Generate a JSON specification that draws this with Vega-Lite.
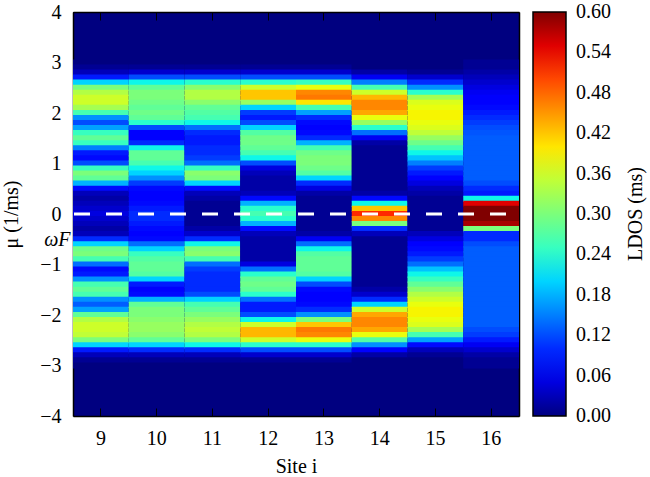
{
"$schema":"https://vega.github.io/schema/vega-lite/v6.json",
"autosize":{"type":"none"},
"padding":{"left":73,"top":12,"right":131,"bottom":61},
"width":446,"height":404,
"config":{"font":"Liberation Serif","view":{"fill":"#000080","stroke":null},
"style":{"guide-label":{"font":"Liberation Serif"},"guide-title":{"font":"Liberation Serif"}},
"axis":{"labelFont":"Liberation Serif","labelFontSize":20,"labelColor":"black","titleFont":"Liberation Serif","titleFontSize":20,"titleFontWeight":"normal","titleColor":"black","domainColor":"black","domainWidth":1.5,"tickColor":"black","tickWidth":1,"tickSize":-8,"grid":false,"zindex":1},
"legend":{"labelFont":"Liberation Serif","titleFont":"Liberation Serif"}},
"resolve":{"axis":{"x":"independent","y":"independent"}},
"layer":[
{"data":{"values":[
{"s":9,"mu":3,"v":0},{"s":9,"mu":2.9,"v":0.01},{"s":9,"mu":2.8,"v":0.03},{"s":9,"mu":2.7,"v":0.09},{"s":9,"mu":2.6,"v":0.2},{"s":9,"mu":2.5,"v":0.3},{"s":9,"mu":2.4,"v":0.34},{"s":9,"mu":2.3,"v":0.36},{"s":9,"mu":2.2,"v":0.36},{"s":9,"mu":2.1,"v":0.33},{"s":9,"mu":2,"v":0.26},{"s":9,"mu":1.9,"v":0.16},{"s":9,"mu":1.8,"v":0.12},{"s":9,"mu":1.7,"v":0.17},{"s":9,"mu":1.6,"v":0.25},{"s":9,"mu":1.5,"v":0.28},{"s":9,"mu":1.4,"v":0.25},{"s":9,"mu":1.3,"v":0.15},{"s":9,"mu":1.2,"v":0.09},{"s":9,"mu":1.1,"v":0.08},{"s":9,"mu":1,"v":0.12},{"s":9,"mu":0.9,"v":0.25},{"s":9,"mu":0.8,"v":0.3},{"s":9,"mu":0.7,"v":0.28},{"s":9,"mu":0.6,"v":0.18},{"s":9,"mu":0.5,"v":0.08},{"s":9,"mu":0.4,"v":0.03},{"s":9,"mu":0.3,"v":0.02},{"s":9,"mu":0.2,"v":0.03},{"s":9,"mu":0.1,"v":0.04},{"s":9,"mu":0,"v":0.05},{"s":9,"mu":-0.1,"v":0.04},{"s":9,"mu":-0.2,"v":0.03},{"s":9,"mu":-0.3,"v":0.02},{"s":9,"mu":-0.4,"v":0.03},{"s":9,"mu":-0.5,"v":0.1},{"s":9,"mu":-0.6,"v":0.2},{"s":9,"mu":-0.7,"v":0.29},{"s":9,"mu":-0.8,"v":0.3},{"s":9,"mu":-0.9,"v":0.26},{"s":9,"mu":-1,"v":0.14},{"s":9,"mu":-1.1,"v":0.08},{"s":9,"mu":-1.2,"v":0.09},{"s":9,"mu":-1.3,"v":0.16},{"s":9,"mu":-1.4,"v":0.26},{"s":9,"mu":-1.5,"v":0.28},{"s":9,"mu":-1.6,"v":0.26},{"s":9,"mu":-1.7,"v":0.16},{"s":9,"mu":-1.8,"v":0.13},{"s":9,"mu":-1.9,"v":0.17},{"s":9,"mu":-2,"v":0.28},{"s":9,"mu":-2.1,"v":0.34},{"s":9,"mu":-2.2,"v":0.36},{"s":9,"mu":-2.3,"v":0.36},{"s":9,"mu":-2.4,"v":0.35},{"s":9,"mu":-2.5,"v":0.3},{"s":9,"mu":-2.6,"v":0.2},{"s":9,"mu":-2.7,"v":0.09},{"s":9,"mu":-2.8,"v":0.03},{"s":9,"mu":-2.9,"v":0.01},{"s":9,"mu":-3,"v":0},
{"s":10,"mu":3,"v":0},{"s":10,"mu":2.9,"v":0.01},{"s":10,"mu":2.8,"v":0.04},{"s":10,"mu":2.7,"v":0.12},{"s":10,"mu":2.6,"v":0.22},{"s":10,"mu":2.5,"v":0.28},{"s":10,"mu":2.4,"v":0.3},{"s":10,"mu":2.3,"v":0.3},{"s":10,"mu":2.2,"v":0.29},{"s":10,"mu":2.1,"v":0.28},{"s":10,"mu":2,"v":0.29},{"s":10,"mu":1.9,"v":0.28},{"s":10,"mu":1.8,"v":0.24},{"s":10,"mu":1.7,"v":0.12},{"s":10,"mu":1.6,"v":0.07},{"s":10,"mu":1.5,"v":0.07},{"s":10,"mu":1.4,"v":0.1},{"s":10,"mu":1.3,"v":0.22},{"s":10,"mu":1.2,"v":0.28},{"s":10,"mu":1.1,"v":0.28},{"s":10,"mu":1,"v":0.26},{"s":10,"mu":0.9,"v":0.22},{"s":10,"mu":0.8,"v":0.2},{"s":10,"mu":0.7,"v":0.16},{"s":10,"mu":0.6,"v":0.11},{"s":10,"mu":0.5,"v":0.08},{"s":10,"mu":0.4,"v":0.07},{"s":10,"mu":0.3,"v":0.07},{"s":10,"mu":0.2,"v":0.08},{"s":10,"mu":0.1,"v":0.09},{"s":10,"mu":0,"v":0.1},{"s":10,"mu":-0.1,"v":0.1},{"s":10,"mu":-0.2,"v":0.09},{"s":10,"mu":-0.3,"v":0.08},{"s":10,"mu":-0.4,"v":0.07},{"s":10,"mu":-0.5,"v":0.08},{"s":10,"mu":-0.6,"v":0.14},{"s":10,"mu":-0.7,"v":0.2},{"s":10,"mu":-0.8,"v":0.25},{"s":10,"mu":-0.9,"v":0.27},{"s":10,"mu":-1,"v":0.28},{"s":10,"mu":-1.1,"v":0.28},{"s":10,"mu":-1.2,"v":0.27},{"s":10,"mu":-1.3,"v":0.2},{"s":10,"mu":-1.4,"v":0.09},{"s":10,"mu":-1.5,"v":0.07},{"s":10,"mu":-1.6,"v":0.08},{"s":10,"mu":-1.7,"v":0.18},{"s":10,"mu":-1.8,"v":0.28},{"s":10,"mu":-1.9,"v":0.3},{"s":10,"mu":-2,"v":0.3},{"s":10,"mu":-2.1,"v":0.31},{"s":10,"mu":-2.2,"v":0.32},{"s":10,"mu":-2.3,"v":0.32},{"s":10,"mu":-2.4,"v":0.31},{"s":10,"mu":-2.5,"v":0.28},{"s":10,"mu":-2.6,"v":0.2},{"s":10,"mu":-2.7,"v":0.1},{"s":10,"mu":-2.8,"v":0.03},{"s":10,"mu":-2.9,"v":0.01},{"s":10,"mu":-3,"v":0},
{"s":11,"mu":3,"v":0},{"s":11,"mu":2.9,"v":0.01},{"s":11,"mu":2.8,"v":0.04},{"s":11,"mu":2.7,"v":0.12},{"s":11,"mu":2.6,"v":0.24},{"s":11,"mu":2.5,"v":0.31},{"s":11,"mu":2.4,"v":0.34},{"s":11,"mu":2.3,"v":0.34},{"s":11,"mu":2.2,"v":0.31},{"s":11,"mu":2.1,"v":0.28},{"s":11,"mu":2,"v":0.27},{"s":11,"mu":1.9,"v":0.26},{"s":11,"mu":1.8,"v":0.22},{"s":11,"mu":1.7,"v":0.14},{"s":11,"mu":1.6,"v":0.1},{"s":11,"mu":1.5,"v":0.09},{"s":11,"mu":1.4,"v":0.09},{"s":11,"mu":1.3,"v":0.1},{"s":11,"mu":1.2,"v":0.1},{"s":11,"mu":1.1,"v":0.11},{"s":11,"mu":1,"v":0.14},{"s":11,"mu":0.9,"v":0.25},{"s":11,"mu":0.8,"v":0.31},{"s":11,"mu":0.7,"v":0.3},{"s":11,"mu":0.6,"v":0.2},{"s":11,"mu":0.5,"v":0.08},{"s":11,"mu":0.4,"v":0.03},{"s":11,"mu":0.3,"v":0.02},{"s":11,"mu":0.2,"v":0.01},{"s":11,"mu":0.1,"v":0.01},{"s":11,"mu":0,"v":0.01},{"s":11,"mu":-0.1,"v":0.01},{"s":11,"mu":-0.2,"v":0.01},{"s":11,"mu":-0.3,"v":0.02},{"s":11,"mu":-0.4,"v":0.04},{"s":11,"mu":-0.5,"v":0.1},{"s":11,"mu":-0.6,"v":0.22},{"s":11,"mu":-0.7,"v":0.3},{"s":11,"mu":-0.8,"v":0.31},{"s":11,"mu":-0.9,"v":0.26},{"s":11,"mu":-1,"v":0.14},{"s":11,"mu":-1.1,"v":0.11},{"s":11,"mu":-1.2,"v":0.1},{"s":11,"mu":-1.3,"v":0.1},{"s":11,"mu":-1.4,"v":0.1},{"s":11,"mu":-1.5,"v":0.1},{"s":11,"mu":-1.6,"v":0.12},{"s":11,"mu":-1.7,"v":0.2},{"s":11,"mu":-1.8,"v":0.26},{"s":11,"mu":-1.9,"v":0.28},{"s":11,"mu":-2,"v":0.3},{"s":11,"mu":-2.1,"v":0.32},{"s":11,"mu":-2.2,"v":0.34},{"s":11,"mu":-2.3,"v":0.35},{"s":11,"mu":-2.4,"v":0.34},{"s":11,"mu":-2.5,"v":0.3},{"s":11,"mu":-2.6,"v":0.22},{"s":11,"mu":-2.7,"v":0.1},{"s":11,"mu":-2.8,"v":0.03},{"s":11,"mu":-2.9,"v":0.01},{"s":11,"mu":-3,"v":0},
{"s":12,"mu":3,"v":0},{"s":12,"mu":2.9,"v":0.01},{"s":12,"mu":2.8,"v":0.04},{"s":12,"mu":2.7,"v":0.12},{"s":12,"mu":2.6,"v":0.24},{"s":12,"mu":2.5,"v":0.36},{"s":12,"mu":2.4,"v":0.42},{"s":12,"mu":2.3,"v":0.42},{"s":12,"mu":2.2,"v":0.32},{"s":12,"mu":2.1,"v":0.2},{"s":12,"mu":2,"v":0.11},{"s":12,"mu":1.9,"v":0.09},{"s":12,"mu":1.8,"v":0.12},{"s":12,"mu":1.7,"v":0.2},{"s":12,"mu":1.6,"v":0.27},{"s":12,"mu":1.5,"v":0.29},{"s":12,"mu":1.4,"v":0.29},{"s":12,"mu":1.3,"v":0.28},{"s":12,"mu":1.2,"v":0.26},{"s":12,"mu":1.1,"v":0.22},{"s":12,"mu":1,"v":0.12},{"s":12,"mu":0.9,"v":0.05},{"s":12,"mu":0.8,"v":0.03},{"s":12,"mu":0.7,"v":0.02},{"s":12,"mu":0.6,"v":0.02},{"s":12,"mu":0.5,"v":0.02},{"s":12,"mu":0.4,"v":0.03},{"s":12,"mu":0.3,"v":0.08},{"s":12,"mu":0.2,"v":0.18},{"s":12,"mu":0.1,"v":0.24},{"s":12,"mu":0,"v":0.26},{"s":12,"mu":-0.1,"v":0.24},{"s":12,"mu":-0.2,"v":0.18},{"s":12,"mu":-0.3,"v":0.08},{"s":12,"mu":-0.4,"v":0.03},{"s":12,"mu":-0.5,"v":0.02},{"s":12,"mu":-0.6,"v":0.02},{"s":12,"mu":-0.7,"v":0.02},{"s":12,"mu":-0.8,"v":0.02},{"s":12,"mu":-0.9,"v":0.02},{"s":12,"mu":-1,"v":0.05},{"s":12,"mu":-1.1,"v":0.14},{"s":12,"mu":-1.2,"v":0.24},{"s":12,"mu":-1.3,"v":0.28},{"s":12,"mu":-1.4,"v":0.29},{"s":12,"mu":-1.5,"v":0.28},{"s":12,"mu":-1.6,"v":0.24},{"s":12,"mu":-1.7,"v":0.14},{"s":12,"mu":-1.8,"v":0.09},{"s":12,"mu":-1.9,"v":0.09},{"s":12,"mu":-2,"v":0.12},{"s":12,"mu":-2.1,"v":0.22},{"s":12,"mu":-2.2,"v":0.36},{"s":12,"mu":-2.3,"v":0.43},{"s":12,"mu":-2.4,"v":0.43},{"s":12,"mu":-2.5,"v":0.36},{"s":12,"mu":-2.6,"v":0.24},{"s":12,"mu":-2.7,"v":0.12},{"s":12,"mu":-2.8,"v":0.04},{"s":12,"mu":-2.9,"v":0.01},{"s":12,"mu":-3,"v":0},
{"s":13,"mu":3,"v":0},{"s":13,"mu":2.9,"v":0.01},{"s":13,"mu":2.8,"v":0.04},{"s":13,"mu":2.7,"v":0.12},{"s":13,"mu":2.6,"v":0.25},{"s":13,"mu":2.5,"v":0.38},{"s":13,"mu":2.4,"v":0.46},{"s":13,"mu":2.3,"v":0.47},{"s":13,"mu":2.2,"v":0.4},{"s":13,"mu":2.1,"v":0.26},{"s":13,"mu":2,"v":0.17},{"s":13,"mu":1.9,"v":0.1},{"s":13,"mu":1.8,"v":0.08},{"s":13,"mu":1.7,"v":0.07},{"s":13,"mu":1.6,"v":0.08},{"s":13,"mu":1.5,"v":0.1},{"s":13,"mu":1.4,"v":0.18},{"s":13,"mu":1.3,"v":0.26},{"s":13,"mu":1.2,"v":0.29},{"s":13,"mu":1.1,"v":0.3},{"s":13,"mu":1,"v":0.3},{"s":13,"mu":0.9,"v":0.29},{"s":13,"mu":0.8,"v":0.27},{"s":13,"mu":0.7,"v":0.2},{"s":13,"mu":0.6,"v":0.1},{"s":13,"mu":0.5,"v":0.05},{"s":13,"mu":0.4,"v":0.02},{"s":13,"mu":0.3,"v":0.01},{"s":13,"mu":0.2,"v":0.01},{"s":13,"mu":0.1,"v":0.01},{"s":13,"mu":0,"v":0.01},{"s":13,"mu":-0.1,"v":0.01},{"s":13,"mu":-0.2,"v":0.01},{"s":13,"mu":-0.3,"v":0.01},{"s":13,"mu":-0.4,"v":0.02},{"s":13,"mu":-0.5,"v":0.06},{"s":13,"mu":-0.6,"v":0.14},{"s":13,"mu":-0.7,"v":0.22},{"s":13,"mu":-0.8,"v":0.27},{"s":13,"mu":-0.9,"v":0.28},{"s":13,"mu":-1,"v":0.28},{"s":13,"mu":-1.1,"v":0.28},{"s":13,"mu":-1.2,"v":0.27},{"s":13,"mu":-1.3,"v":0.2},{"s":13,"mu":-1.4,"v":0.12},{"s":13,"mu":-1.5,"v":0.08},{"s":13,"mu":-1.6,"v":0.07},{"s":13,"mu":-1.7,"v":0.07},{"s":13,"mu":-1.8,"v":0.08},{"s":13,"mu":-1.9,"v":0.1},{"s":13,"mu":-2,"v":0.16},{"s":13,"mu":-2.1,"v":0.3},{"s":13,"mu":-2.2,"v":0.42},{"s":13,"mu":-2.3,"v":0.47},{"s":13,"mu":-2.4,"v":0.46},{"s":13,"mu":-2.5,"v":0.38},{"s":13,"mu":-2.6,"v":0.24},{"s":13,"mu":-2.7,"v":0.12},{"s":13,"mu":-2.8,"v":0.04},{"s":13,"mu":-2.9,"v":0.01},{"s":13,"mu":-3,"v":0},
{"s":14,"mu":3,"v":0},{"s":14,"mu":2.9,"v":0},{"s":14,"mu":2.8,"v":0.02},{"s":14,"mu":2.7,"v":0.06},{"s":14,"mu":2.6,"v":0.15},{"s":14,"mu":2.5,"v":0.26},{"s":14,"mu":2.4,"v":0.36},{"s":14,"mu":2.3,"v":0.43},{"s":14,"mu":2.2,"v":0.46},{"s":14,"mu":2.1,"v":0.46},{"s":14,"mu":2,"v":0.44},{"s":14,"mu":1.9,"v":0.38},{"s":14,"mu":1.8,"v":0.32},{"s":14,"mu":1.7,"v":0.24},{"s":14,"mu":1.6,"v":0.14},{"s":14,"mu":1.5,"v":0.06},{"s":14,"mu":1.4,"v":0.02},{"s":14,"mu":1.3,"v":0.01},{"s":14,"mu":1.2,"v":0.01},{"s":14,"mu":1.1,"v":0.01},{"s":14,"mu":1,"v":0.01},{"s":14,"mu":0.9,"v":0.01},{"s":14,"mu":0.8,"v":0.01},{"s":14,"mu":0.7,"v":0.01},{"s":14,"mu":0.6,"v":0.01},{"s":14,"mu":0.5,"v":0.01},{"s":14,"mu":0.4,"v":0.02},{"s":14,"mu":0.3,"v":0.08},{"s":14,"mu":0.2,"v":0.22},{"s":14,"mu":0.1,"v":0.42},{"s":14,"mu":0,"v":0.52},{"s":14,"mu":-0.1,"v":0.46},{"s":14,"mu":-0.2,"v":0.3},{"s":14,"mu":-0.3,"v":0.1},{"s":14,"mu":-0.4,"v":0.03},{"s":14,"mu":-0.5,"v":0.01},{"s":14,"mu":-0.6,"v":0.01},{"s":14,"mu":-0.7,"v":0.01},{"s":14,"mu":-0.8,"v":0.01},{"s":14,"mu":-0.9,"v":0.01},{"s":14,"mu":-1,"v":0.01},{"s":14,"mu":-1.1,"v":0.01},{"s":14,"mu":-1.2,"v":0.01},{"s":14,"mu":-1.3,"v":0.01},{"s":14,"mu":-1.4,"v":0.01},{"s":14,"mu":-1.5,"v":0.02},{"s":14,"mu":-1.6,"v":0.04},{"s":14,"mu":-1.7,"v":0.1},{"s":14,"mu":-1.8,"v":0.2},{"s":14,"mu":-1.9,"v":0.36},{"s":14,"mu":-2,"v":0.44},{"s":14,"mu":-2.1,"v":0.46},{"s":14,"mu":-2.2,"v":0.46},{"s":14,"mu":-2.3,"v":0.44},{"s":14,"mu":-2.4,"v":0.38},{"s":14,"mu":-2.5,"v":0.27},{"s":14,"mu":-2.6,"v":0.16},{"s":14,"mu":-2.7,"v":0.07},{"s":14,"mu":-2.8,"v":0.02},{"s":14,"mu":-2.9,"v":0},{"s":14,"mu":-3,"v":0},
{"s":15,"mu":3,"v":0},{"s":15,"mu":2.9,"v":0},{"s":15,"mu":2.8,"v":0.01},{"s":15,"mu":2.7,"v":0.04},{"s":15,"mu":2.6,"v":0.1},{"s":15,"mu":2.5,"v":0.16},{"s":15,"mu":2.4,"v":0.24},{"s":15,"mu":2.3,"v":0.33},{"s":15,"mu":2.2,"v":0.37},{"s":15,"mu":2.1,"v":0.38},{"s":15,"mu":2,"v":0.39},{"s":15,"mu":1.9,"v":0.39},{"s":15,"mu":1.8,"v":0.38},{"s":15,"mu":1.7,"v":0.37},{"s":15,"mu":1.6,"v":0.35},{"s":15,"mu":1.5,"v":0.32},{"s":15,"mu":1.4,"v":0.29},{"s":15,"mu":1.3,"v":0.26},{"s":15,"mu":1.2,"v":0.22},{"s":15,"mu":1.1,"v":0.19},{"s":15,"mu":1,"v":0.15},{"s":15,"mu":0.9,"v":0.11},{"s":15,"mu":0.8,"v":0.09},{"s":15,"mu":0.7,"v":0.07},{"s":15,"mu":0.6,"v":0.05},{"s":15,"mu":0.5,"v":0.03},{"s":15,"mu":0.4,"v":0.02},{"s":15,"mu":0.3,"v":0.01},{"s":15,"mu":0.2,"v":0.01},{"s":15,"mu":0.1,"v":0.01},{"s":15,"mu":0,"v":0.01},{"s":15,"mu":-0.1,"v":0.01},{"s":15,"mu":-0.2,"v":0.01},{"s":15,"mu":-0.3,"v":0.01},{"s":15,"mu":-0.4,"v":0.03},{"s":15,"mu":-0.5,"v":0.05},{"s":15,"mu":-0.6,"v":0.07},{"s":15,"mu":-0.7,"v":0.08},{"s":15,"mu":-0.8,"v":0.09},{"s":15,"mu":-0.9,"v":0.11},{"s":15,"mu":-1,"v":0.14},{"s":15,"mu":-1.1,"v":0.19},{"s":15,"mu":-1.2,"v":0.22},{"s":15,"mu":-1.3,"v":0.25},{"s":15,"mu":-1.4,"v":0.28},{"s":15,"mu":-1.5,"v":0.31},{"s":15,"mu":-1.6,"v":0.34},{"s":15,"mu":-1.7,"v":0.36},{"s":15,"mu":-1.8,"v":0.38},{"s":15,"mu":-1.9,"v":0.39},{"s":15,"mu":-2,"v":0.39},{"s":15,"mu":-2.1,"v":0.38},{"s":15,"mu":-2.2,"v":0.37},{"s":15,"mu":-2.3,"v":0.33},{"s":15,"mu":-2.4,"v":0.26},{"s":15,"mu":-2.5,"v":0.17},{"s":15,"mu":-2.6,"v":0.08},{"s":15,"mu":-2.7,"v":0.03},{"s":15,"mu":-2.8,"v":0.01},{"s":15,"mu":-2.9,"v":0},{"s":15,"mu":-3,"v":0},
{"s":16,"mu":3,"v":0.01},{"s":16,"mu":2.9,"v":0.01},{"s":16,"mu":2.8,"v":0.02},{"s":16,"mu":2.7,"v":0.03},{"s":16,"mu":2.6,"v":0.04},{"s":16,"mu":2.5,"v":0.05},{"s":16,"mu":2.4,"v":0.06},{"s":16,"mu":2.3,"v":0.065},{"s":16,"mu":2.2,"v":0.07},{"s":16,"mu":2.1,"v":0.08},{"s":16,"mu":2,"v":0.09},{"s":16,"mu":1.9,"v":0.1},{"s":16,"mu":1.8,"v":0.11},{"s":16,"mu":1.7,"v":0.12},{"s":16,"mu":1.6,"v":0.125},{"s":16,"mu":1.5,"v":0.13},{"s":16,"mu":1.4,"v":0.13},{"s":16,"mu":1.3,"v":0.13},{"s":16,"mu":1.2,"v":0.13},{"s":16,"mu":1.1,"v":0.13},{"s":16,"mu":1,"v":0.13},{"s":16,"mu":0.9,"v":0.13},{"s":16,"mu":0.8,"v":0.13},{"s":16,"mu":0.7,"v":0.13},{"s":16,"mu":0.6,"v":0.12},{"s":16,"mu":0.5,"v":0.1},{"s":16,"mu":0.4,"v":0.09},{"s":16,"mu":0.3,"v":0.22},{"s":16,"mu":0.2,"v":0.55},{"s":16,"mu":0.1,"v":0.6},{"s":16,"mu":0,"v":0.6},{"s":16,"mu":-0.1,"v":0.6},{"s":16,"mu":-0.2,"v":0.58},{"s":16,"mu":-0.3,"v":0.3},{"s":16,"mu":-0.4,"v":0.1},{"s":16,"mu":-0.5,"v":0.1},{"s":16,"mu":-0.6,"v":0.12},{"s":16,"mu":-0.7,"v":0.13},{"s":16,"mu":-0.8,"v":0.13},{"s":16,"mu":-0.9,"v":0.13},{"s":16,"mu":-1,"v":0.13},{"s":16,"mu":-1.1,"v":0.13},{"s":16,"mu":-1.2,"v":0.13},{"s":16,"mu":-1.3,"v":0.13},{"s":16,"mu":-1.4,"v":0.13},{"s":16,"mu":-1.5,"v":0.13},{"s":16,"mu":-1.6,"v":0.13},{"s":16,"mu":-1.7,"v":0.13},{"s":16,"mu":-1.8,"v":0.13},{"s":16,"mu":-1.9,"v":0.13},{"s":16,"mu":-2,"v":0.13},{"s":16,"mu":-2.1,"v":0.13},{"s":16,"mu":-2.2,"v":0.13},{"s":16,"mu":-2.3,"v":0.12},{"s":16,"mu":-2.4,"v":0.11},{"s":16,"mu":-2.5,"v":0.09},{"s":16,"mu":-2.6,"v":0.06},{"s":16,"mu":-2.7,"v":0.04},{"s":16,"mu":-2.8,"v":0.02},{"s":16,"mu":-2.9,"v":0.01},{"s":16,"mu":-3,"v":0.01}
]},
"mark":{"type":"rect","height":6.2},
"encoding":{
"x":{"field":"s","type":"ordinal","scale":{"paddingInner":0,"paddingOuter":0},"axis":{"orient":"bottom","title":"Site i","labelAngle":0,"labelPadding":20,"titlePadding":8}},
"y":{"field":"mu","type":"quantitative","scale":{"domain":[-4,4],"nice":false,"zero":false},"axis":{"orient":"left","title":"μ (1/ms)","values":[-4,-3,-2,-1,0,1,2,3,4],"labelExpr":"datum.value < 0 ? '−' + abs(datum.value) : '' + datum.value","labelPadding":20,"titlePadding":18}},
"color":{"field":"v","type":"quantitative","scale":{"domain":[0,0.066,0.075,0.204,0.21,0.225,0.384,0.39,0.396,0.534,0.546,0.6],"range":["#000080","#0000ff","#0000ff","#00dbff","#00e6f7","#15ffe2","#eeff08","#f7f500","#ffec00","#ff1300","#e80000","#800000"],"interpolate":"rgb","clamp":true},
"legend":{"title":"LDOS (ms)","type":"gradient","direction":"vertical","orient":"right","offset":13,"padding":0,"gradientLength":404,"gradientThickness":33,"gradientStrokeColor":"black","gradientStrokeWidth":1.5,"values":[0,0.06,0.12,0.18,0.24,0.3,0.36,0.42,0.48,0.54,0.6],"format":".2f","labelFont":"Liberation Serif","labelFontSize":20,"labelColor":"black","labelOffset":10,"labelBaseline":"middle","labelOverlap":false,"titleFont":"Liberation Serif","titleFontSize":20,"titleFontWeight":"normal","titleColor":"black","titleOrient":"right","titleAnchor":"middle","titlePadding":15,"encoding":{"labels":{"baseline":{"value":"middle"}},"title":{"angle":{"value":-90},"baseline":{"value":"top"}}}}}
}},
{"data":{"values":[{}]},
"mark":{"type":"rule","color":"white","strokeWidth":3,"strokeDash":[16,16],"strokeDashOffset":19},
"encoding":{"y":{"datum":0,"type":"quantitative","axis":null}}},
{"data":{"values":[{"s":9,"mu":0}]},
"mark":{"type":"point","opacity":0},
"encoding":{
"x":{"field":"s","type":"ordinal","axis":{"orient":"top","labels":false,"title":null}},
"y":{"field":"mu","type":"quantitative","axis":{"orient":"right","labels":false,"title":null,"values":[-4,-3,-2,-1,0,1,2,3,4]}}}},
{"data":{"values":[{"s":9,"mu":0}]},
"mark":{"type":"point","opacity":0},
"encoding":{
"x":{"field":"s","type":"ordinal","axis":null},
"y":{"field":"mu","type":"quantitative","axis":{"orient":"left","labels":true,"ticks":false,"domain":false,"title":null,"values":[-0.5],"labelExpr":"'ωF'","labelFontStyle":"italic","labelPadding":3}}}}
]
}
